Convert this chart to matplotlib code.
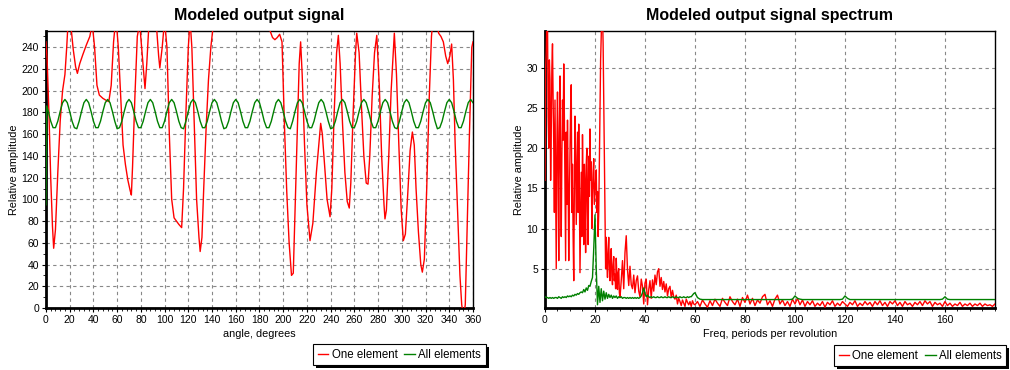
import numpy as np
import matplotlib
matplotlib.use('Agg')
import matplotlib.pyplot as plt
from matplotlib.ticker import MultipleLocator
from matplotlib.patches import Rectangle

plt.rcParams['font.family'] = ['Liberation Sans', 'DejaVu Sans']

# ---- left chart: modeled output signal (angle, degrees) ----
one_deg = [0, 1, 2.5, 4, 5.5, 6.5, 8, 10, 12, 14, 16, 17.5, 19, 21, 23, 25, 26.5, 28.5, 31, 34,
           37, 39, 41, 43, 45, 48, 51, 53, 55, 57, 59, 61, 63, 65, 67, 69, 71, 72, 73, 75,
           77, 79, 81, 83.5, 85, 87, 90, 93, 95, 96, 98, 100, 102, 104, 106, 108, 110, 112, 114.4, 116,
           118, 120, 121.5, 123, 125, 127, 129, 130, 131.5, 133, 135, 137, 139, 141, 145, 160, 180, 187, 189, 191,
           193, 195, 197, 199, 201, 203, 205, 207, 208.5, 210, 212, 213.5, 214.7, 216, 218, 220, 222.6, 225, 228, 231.6,
           233, 235, 237, 239.5, 241, 243, 245, 246.5, 248, 250, 252, 254, 255.7, 257, 259, 261, 262, 264, 266, 268,
           270, 271.5, 273, 275, 277, 278.9, 281, 283, 285, 285.8, 287, 289, 291, 293.7, 295.5, 297.5, 299.5, 301.3, 303, 305,
           307, 308.9, 310.5, 312, 314, 316, 317.3, 319, 321, 323, 325, 327, 329, 331, 333, 335, 337, 338.7, 340.5, 342,
           343.5, 345, 347, 349, 350.5, 352, 353.5, 355, 357, 359, 360]
one_val = [245, 228, 180, 120, 75, 55, 72, 125, 172, 200, 215, 240, 270, 260, 238, 222, 216, 225, 233, 242,
           250, 262, 240, 205, 196, 193, 191, 190, 205, 245, 268, 240, 195, 150, 132, 118, 108, 104, 130, 195,
           250, 262, 235, 202, 225, 265, 270, 262, 232, 221, 240, 265, 240, 160, 100, 83, 80, 77, 74, 110,
           180, 240, 265, 240, 170, 100, 65, 52, 65, 110, 165, 210, 240, 260, 290, 300, 290, 265, 255, 249,
           247, 249, 252, 245, 170, 107, 60, 30, 32, 90, 170, 225, 245, 215, 150, 95, 62, 78, 125, 170,
           160, 130, 100, 84, 110, 180, 235, 251, 225, 170, 125, 98, 92, 115, 180, 235, 253, 235, 185, 140,
           115, 114, 140, 195, 235, 251, 205, 140, 95, 82, 90, 140, 200, 253, 215, 150, 90, 62, 68, 105,
           145, 162, 150, 110, 70, 40, 33, 45, 110, 190, 250, 275, 268, 253, 250, 245, 232, 225, 232, 243,
           210, 150, 90, 30, 3, -8, 3, 70, 160, 240, 245]

all_deg = [0, 0.6] + list(range(2, 361, 2))
all_val = [95, 186,
           181, 172, 166, 166, 172, 181, 189, 192, 189,
           181, 172, 166, 165, 172, 181, 189, 192, 189,
           181, 172, 166, 166, 172, 181, 189, 192, 189,
           181, 172, 165, 166, 172, 181, 189, 192, 189,
           181, 172, 166, 166, 172, 181, 189, 192, 189,
           181, 172, 166, 166, 172, 181, 189, 192, 189,
           181, 172, 166, 165, 172, 181, 189, 192, 189,
           181, 172, 166, 166, 172, 181, 189, 192, 189,
           181, 172, 165, 166, 172, 181, 189, 192, 189,
           181, 172, 166, 166, 172, 181, 189, 192, 189,
           181, 172, 166, 166, 172, 181, 189, 192, 189,
           181, 172, 166, 165, 172, 181, 189, 192, 189,
           181, 172, 166, 166, 172, 181, 189, 192, 189,
           181, 172, 165, 166, 172, 181, 189, 192, 189,
           181, 172, 166, 166, 172, 181, 189, 192, 189,
           181, 172, 166, 166, 172, 181, 189, 192, 189,
           181, 172, 166, 165, 172, 181, 189, 192, 189,
           181, 172, 166, 166, 172, 181, 189, 192, 189,
           181, 172, 165, 166, 172, 181, 189, 192, 189,
           181, 172, 166, 166, 172, 181, 189, 192, 189]

# ---- right chart: spectrum (periods per revolution) ----
# "One element" spectrum: fine steps below 30, coarser above
one_freq = np.concatenate([np.arange(0, 30, 0.25), np.arange(30, 60, 0.5), np.arange(60, 181, 1)])
one_spec_a = [16, 30, 32, 37, 36, 24, 20, 31, 28.5, 16, 22, 30, 33, 26, 20.5, 12, 26, 15, 5, 20,
              27, 18, 6, 22, 29, 17, 9, 19, 26, 21, 30.5, 24, 15, 6, 22, 13, 23.5, 16, 6, 14,
              20, 25, 27.9, 12, 18, 9, 3.5, 15, 24, 19, 10.5, 16, 22, 12, 23, 15, 4.5, 11, 17, 9,
              21.7, 14, 8, 18, 15, 7, 17.9, 20, 12.2, 8, 19, 14, 22.4, 16, 18.3, 10, 14, 17, 18.7, 13,
              14.6, 16, 17.3, 12, 14.6, 9, 12, 18, 25, 31, 34, 38, 37, 33, 26, 18, 12, 5, 8.9, 6,
              3.9, 7, 8.9, 5, 3.5, 6, 7.5, 4, 3, 5.5, 6.5, 3.5, 4.3, 2.5, 6.3, 4, 2.4, 4.5, 5, 2]
one_spec_b = [1.4, 3.5, 6, 2.5, 7, 9.1, 4.9, 2.9, 5.3, 3, 2.5, 4.2, 2, 3.5, 4.1, 2.2, 1.5, 3.7, 2.8, 0.6,
              3.2, 3.7, 0.5, 2.4, 3.5, 1.3, 3.6, 2.2, 4.2, 3, 4.6, 5, 2.8, 3.9, 2.4, 3.4, 2.1, 3.1, 1.6, 2.5,
              2.8, 1.4, 2.3, 1.5, 1.2, 1.7, 0.6, 1.3, 0.9, 0.4, 1.1, 0.7, 0.3, 1.2, 0.8, 0.5, 0.9, 0.3, 1.0, 0.6]
one_spec_c = [0.5, 0.9, 0.3, 1.1, 0.6, 0.2, 1.0, 0.4, 1.2, 0.7, 0.3, 1.3, 0.8, 0.4, 1.5, 0.9, 0.5, 1.2, 0.3, 1.4,
              0.8, 1.7, 0.6, 1.3, 0.4, 1.1, 0.7, 1.5, 1.8, 0.5, 1.0, 0.3, 1.2, 1.7, 0.6, 1.1, 0.4, 0.9, 0.3, 1.2,
              0.6, 1.3, 0.5, 1.1, 0.3, 0.9, 0.5, 1.0, 0.3, 0.7, 0.4, 0.9, 0.2, 0.8, 0.5, 1.0, 0.3, 0.7, 0.4, 0.9,
              0.6, 0.3, 0.8, 0.5, 1.0, 0.3, 0.7, 0.4, 0.9, 0.5, 0.8, 0.3, 0.9, 0.5, 1.0, 0.4, 0.8, 0.3, 0.9, 0.6,
              1.0, 0.4, 0.8, 0.3, 0.9, 0.5, 0.7, 0.3, 0.8, 0.5, 0.9, 0.4, 1.0, 0.6, 0.9, 0.3, 0.8, 0.5, 0.7, 0.3,
              0.9, 0.4, 0.7, 0.3, 0.6, 0.4, 0.8, 0.3, 0.6, 0.4, 0.7, 0.3, 0.6, 0.4, 0.7, 0.3, 0.6, 0.4, 0.5, 0.3,
              0.6]

# "All elements" spectrum
all_freq = np.concatenate([np.arange(0, 60, 0.5), np.arange(60, 181, 1)])
all_spec_a = [1.5, 1.4, 1.4, 1.3, 1.4, 1.3, 1.4, 1.3, 1.4, 1.4, 1.3, 1.5, 1.4, 1.3, 1.5, 1.4, 1.5, 1.4, 1.6, 1.5,
              1.6, 1.5, 1.7, 1.6, 1.8, 1.7, 1.9, 1.8, 2.0, 2.1, 2.0, 2.4, 2.1, 2.6, 2.3, 2.9, 2.8, 3.4, 3.9, 7.5,
              11.7, 5.0, 0.5, 2.8, 0.8, 2.5, 1.0, 2.2, 1.2, 2.0, 1.3, 1.8, 1.4, 1.7, 1.3, 1.6, 1.4, 1.6, 1.3, 1.5,
              1.4, 1.5, 1.3, 1.4, 1.4, 1.3, 1.4, 1.3, 1.4, 1.3, 1.4, 1.3, 1.4, 1.3, 1.4, 1.3, 1.4, 1.6, 2.0, 2.6,
              1.9, 1.5, 1.7, 1.5, 1.4, 1.5, 1.4, 1.5, 1.4, 1.4, 1.5, 1.4, 1.4, 1.5, 1.4, 1.4, 1.5, 1.4, 1.4, 1.5,
              1.4, 1.4, 1.5, 1.4, 1.4, 1.5, 1.4, 1.4, 1.5, 1.4, 1.4, 1.5, 1.4, 1.4, 1.5, 1.4, 1.5, 1.5, 1.7, 1.9]
all_spec_b = [2.0, 1.4, 1.2, 1.15, 1.15, 1.15, 1.15, 1.15, 1.15, 1.15, 1.15, 1.15, 1.15, 1.15, 1.15, 1.15, 1.15, 1.15, 1.15, 1.15,
              1.15, 1.15, 1.15, 1.15, 1.15, 1.15, 1.15, 1.15, 1.15, 1.15, 1.15, 1.15, 1.15, 1.15, 1.15, 1.15, 1.15, 1.15, 1.15, 1.2,
              1.6, 1.3, 1.2, 1.15, 1.15, 1.15, 1.15, 1.15, 1.15, 1.15, 1.15, 1.15, 1.15, 1.15, 1.15, 1.15, 1.15, 1.15, 1.15, 1.2,
              1.6, 1.3, 1.15, 1.15, 1.15, 1.15, 1.15, 1.15, 1.15, 1.15, 1.15, 1.15, 1.15, 1.15, 1.15, 1.15, 1.15, 1.15, 1.15, 1.15,
              1.15, 1.15, 1.15, 1.15, 1.15, 1.15, 1.15, 1.15, 1.15, 1.15, 1.15, 1.15, 1.15, 1.15, 1.15, 1.15, 1.15, 1.15, 1.15, 1.2,
              1.5, 1.2, 1.15, 1.15, 1.15, 1.15, 1.15, 1.15, 1.15, 1.15, 1.15, 1.15, 1.15, 1.15, 1.15, 1.15, 1.15, 1.15, 1.15, 1.15,
              1.15]

one_spec = one_spec_a + one_spec_b + one_spec_c
all_spec = all_spec_a + all_spec_b

RED = '#ff0000'
GREEN = '#008000'
tick_fs = 7.5
label_fs = 7.8


def style_axes(ax):
    ax.grid(True, which='major', color='#888888', linestyle=(0, (3, 3)), linewidth=0.8)
    ax.set_axisbelow(True)
    for side in ['left', 'bottom']:
        ax.spines[side].set_linewidth(2)
    for side in ['top', 'right']:
        ax.spines[side].set_linewidth(1)
    ax.tick_params(which='major', length=3, width=0.8, labelsize=tick_fs, pad=2)
    ax.tick_params(which='minor', length=2, width=0.6)


fig = plt.figure(figsize=(10.1, 3.7), dpi=100, facecolor='white')
ax1 = fig.add_axes([0.0455, 0.1676, 0.4228, 0.7486])
ax2 = fig.add_axes([0.5396, 0.1676, 0.4455, 0.7486])

# left chart
ax1.plot(one_deg, one_val, color=RED, lw=1, label='One element', zorder=3)
ax1.plot(all_deg, all_val, color=GREEN, lw=1, label='All elements', zorder=3)
ax1.set_xlim(0, 360)
ax1.set_ylim(0, 255)
ax1.xaxis.set_major_locator(MultipleLocator(20))
ax1.xaxis.set_minor_locator(MultipleLocator(4))
ax1.yaxis.set_major_locator(MultipleLocator(20))
ax1.yaxis.set_minor_locator(MultipleLocator(10))
style_axes(ax1)
ax1.set_title('Modeled output signal', fontsize=11.5, fontweight='bold', pad=8)
ax1.set_xlabel('angle, degrees', fontsize=label_fs, labelpad=3)
ax1.set_ylabel('Relative amplitude', fontsize=label_fs, labelpad=1.5)

# right chart
ax2.plot(one_freq, one_spec, color=RED, lw=1, label='One element', zorder=3)
ax2.plot(all_freq, all_spec, color=GREEN, lw=1, label='All elements', zorder=3)
ax2.set_xlim(0, 180)
ax2.set_ylim(0.1, 34.6)
ax2.set_xticks(range(0, 161, 20))
ax2.xaxis.set_minor_locator(MultipleLocator(5))
ax2.set_yticks([5, 10, 15, 20, 25, 30])
style_axes(ax2)
ax2.set_title('Modeled output signal spectrum', fontsize=11.5, fontweight='bold', pad=8)
ax2.set_xlabel('Freq, periods per revolution', fontsize=label_fs, labelpad=3)
ax2.set_ylabel('Relative amplitude', fontsize=label_fs, labelpad=1.5)

legends = []
for ax, x0, y0 in [(ax1, 0.31, 0.0703), (ax2, 0.8257, 0.0676)]:
    leg = ax.legend(loc='upper left', bbox_to_anchor=(x0, y0), bbox_transform=fig.transFigure,
                    ncol=2, fontsize=8.3, frameon=True, fancybox=False, edgecolor='black',
                    framealpha=1, borderaxespad=0, borderpad=0.4, handlelength=0.9,
                    handletextpad=0.3, columnspacing=0.6)
    leg.get_frame().set_linewidth(0.8)
    leg.set_zorder(10)
    legends.append(leg)

# black drop shadow behind each legend box
fig.canvas.draw()
for leg in legends:
    bb = leg.get_frame().get_window_extent()
    fig.patches.append(Rectangle((bb.x0 + 3, bb.y0 - 3), bb.width, bb.height,
                                 transform=None, facecolor='black', edgecolor='none', zorder=-1))

fig.savefig('out.png', dpi=100, facecolor='white')
